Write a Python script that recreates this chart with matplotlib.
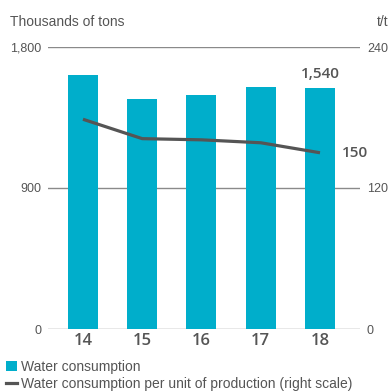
import matplotlib
matplotlib.use("Agg")
import matplotlib.pyplot as plt
from matplotlib.patches import Patch
from matplotlib.lines import Line2D

years = ["14", "15", "16", "17", "18"]
water_consumption = [1620, 1468, 1494, 1545, 1540]      # thousands of tons
water_per_unit = [178.5, 162, 161, 158.5, 150]          # t/t (right scale)
left_ticks = [0, 900, 1800]
right_ticks = [0, 120, 240]

BAR = "#00AECB"
LINE = "#555555"
GRID = "#8a8a8a"
TXT = "#555555"
FONT = "Liberation Sans"
NUM_FONT = "Open Sans"

fig = plt.figure(figsize=(3.88, 3.92), dpi=100)
ax = fig.add_axes([48 / 388, 63 / 392, 312 / 388, 282 / 392])
ax2 = ax.twinx()

x = list(range(len(years)))
ax.bar(x, water_consumption, width=0.506, color=BAR, zorder=2)
ax.set_xlim(-0.59, 4.675)
ax.set_ylim(0, 1800)
ax2.set_ylim(0, 240)

for v in left_ticks:
    ax.axhline(v, color=GRID, lw=1.0, zorder=1)

ax2.plot(x, water_per_unit, color=LINE, lw=2.3, solid_capstyle="butt", zorder=3)

for a in (ax, ax2):
    for s in a.spines.values():
        s.set_visible(False)
    a.tick_params(length=0)

ax.set_yticks(left_ticks)
ax.set_yticklabels([f"{v:,}" for v in left_ticks], fontsize=9, color=TXT, family=FONT)
ax.tick_params(axis="y", pad=5)
ax2.set_yticks(right_ticks)
ax2.set_yticklabels([str(v) for v in right_ticks], fontsize=9, color=TXT, family=FONT)
ax2.tick_params(axis="y", pad=5)

ax.set_xticks(x)
ax.set_xticklabels(years, fontsize=12, color=TXT, family=NUM_FONT, fontweight="semibold")
ax.tick_params(axis="x", pad=3)

# value callouts
ax.text(x[-1], water_consumption[-1] + 45, f"{water_consumption[-1]:,}",
        ha="center", va="bottom", fontsize=11, color=TXT, family=NUM_FONT,
        fontweight="semibold")
ax2.text(x[-1] + 0.37, water_per_unit[-1], f"{water_per_unit[-1]:.0f}",
         ha="left", va="center", fontsize=11, color=TXT, family=NUM_FONT,
         fontweight="semibold")

fig.text(10 / 388, 1 - 22 / 392, "Thousands of tons", ha="left", va="center",
         fontsize=10, color=TXT, family=FONT)
fig.text(388 / 388, 1 - 22 / 392, "t/t", ha="right", va="center",
         fontsize=10, color=TXT, family=FONT)

handles = [Patch(facecolor=BAR, edgecolor="none"),
           Line2D([], [], color=LINE, lw=2.3)]
labels = ["Water consumption", "Water consumption per unit of production (right scale)"]
fig.legend(handles, labels, loc="upper left", bbox_to_anchor=(3 / 388, 1 - 357 / 392),
           frameon=False, fontsize=10, handlelength=0.8, handleheight=0.8,
           handletextpad=0.3, labelspacing=0.26, borderaxespad=0, borderpad=0.2,
           labelcolor=TXT, prop={"family": FONT, "size": 10})

fig.savefig("out.png", dpi=100)
